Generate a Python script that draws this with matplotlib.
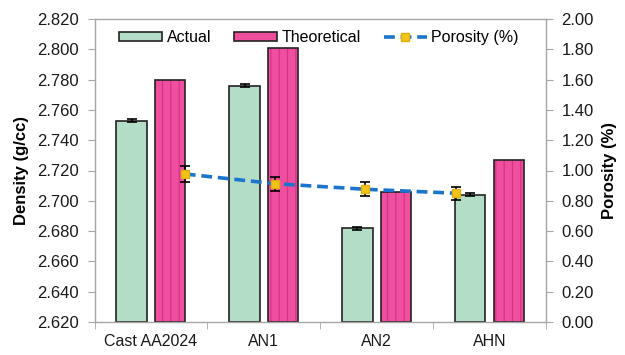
import matplotlib
matplotlib.use("Agg")
import matplotlib.pyplot as plt
from matplotlib.patches import Patch
import numpy as np

plt.rcParams['font.family'] = ['Liberation Sans', 'DejaVu Sans']
plt.rcParams['hatch.linewidth'] = 0.9

categories = ["Cast AA2024", "AN1", "AN2", "AHN"]
actual = [2.753, 2.776, 2.682, 2.704]
actual_err = [0.001, 0.001, 0.001, 0.001]
theoretical = [2.780, 2.801, 2.706, 2.727]
porosity = [0.977, 0.913, 0.876, 0.850]
porosity_err = [0.05, 0.046, 0.045, 0.042]
density_ticks = [2.620, 2.640, 2.660, 2.680, 2.700, 2.720, 2.740, 2.760, 2.780, 2.800, 2.820]
porosity_ticks = [0.0, 0.2, 0.4, 0.6, 0.8, 1.0, 1.2, 1.4, 1.6, 1.8, 2.0]

W, H = 625, 355
fig = plt.figure(figsize=(W / 100, H / 100), dpi=100)
left, right, top, bottom = 94.5, 546, 19, 322
rect = [left / W, 1 - bottom / H, (right - left) / W, (bottom - top) / H]
ax = fig.add_axes(rect)

x = np.arange(len(categories))
bw = 0.27
off = 0.171
gray = '#A6A6A6'
green = '#B3DDC6'
pink = '#F04FA0'
ax.bar(x - off, np.array(actual) - 2.62, bw, bottom=2.62, color=green,
       edgecolor='#222222', linewidth=1.2, zorder=2)
ax.errorbar(x - off, actual, yerr=actual_err, fmt='none', ecolor='black',
            elinewidth=1.2, capsize=3.5, capthick=1.2, zorder=3)
ax.bar(x + off, np.array(theoretical) - 2.62, bw, bottom=2.62, color=pink,
       edgecolor='#D33586', linewidth=0, hatch='||', zorder=2)
ax.bar(x + off, np.array(theoretical) - 2.62, bw, bottom=2.62, fill=False,
       edgecolor='#222222', linewidth=1.2, zorder=2.5)
ax.set_ylim(2.62, 2.82)
ax.set_xlim(-0.5, len(categories) - 0.5)
ax.set_yticks(density_ticks)
ax.set_yticklabels([f"{v:.3f}" for v in density_ticks])
ax.set_xticks(x)
ax.set_xticklabels(categories)
ax.set_xticks(np.arange(-0.5, len(categories)), minor=True)
ax.tick_params(axis='x', which='major', length=0, pad=9, labelsize=11.5, colors='#1a1a1a')
ax.tick_params(axis='x', which='minor', length=5, color=gray, direction='out')
ax.tick_params(axis='y', length=5, color=gray, direction='out', labelsize=12,
               labelcolor='#1a1a1a', pad=6)
for s in ax.spines.values():
    s.set_color(gray)
    s.set_linewidth(1.0)
ax.set_ylabel("Density (g/cc)", fontsize=12, fontweight='bold', labelpad=6)

ax2 = fig.add_axes(rect, facecolor='none')
ax2.set_xlim(-1, 4)
ax2.set_ylim(0, 2.0)
px = np.arange(len(porosity))
ax2.errorbar(px, porosity, yerr=porosity_err, fmt='none', ecolor='black',
             elinewidth=1.2, capsize=3.5, capthick=1.2, zorder=3)
line, = ax2.plot(px, porosity, linestyle=(0, (3, 1.6)), color='#1B75CC', linewidth=2.6,
                 marker='s', markersize=6, markerfacecolor='#F2C418',
                 markeredgecolor='#E0B010', zorder=4)
ax2.set_xticks([])
ax2.yaxis.tick_right()
ax2.yaxis.set_label_position('right')
ax2.set_yticks(porosity_ticks)
ax2.set_yticklabels([f"{v:.2f}" for v in porosity_ticks])
ax2.tick_params(axis='y', length=5, color=gray, direction='out', labelsize=12,
                labelcolor='#1a1a1a', pad=6)
for s in ax2.spines.values():
    s.set_visible(False)
ax2.set_ylabel("Porosity (%)", fontsize=12, fontweight='bold', labelpad=6)

handles = [Patch(facecolor=green, edgecolor='#222222', linewidth=1.2),
           Patch(facecolor=pink, edgecolor='#222222', linewidth=1.2),
           line]
labels = ["Actual", "Theoretical", "Porosity (%)"]
ax2.legend(handles, labels, loc='upper left', bbox_to_anchor=(0.03, 1.0), ncol=3,
           frameon=False, fontsize=11.5, handlelength=2.7, handleheight=0.55,
           columnspacing=1.4, handletextpad=0.3, borderaxespad=0.3)

fig.savefig("out.png", dpi=100)
